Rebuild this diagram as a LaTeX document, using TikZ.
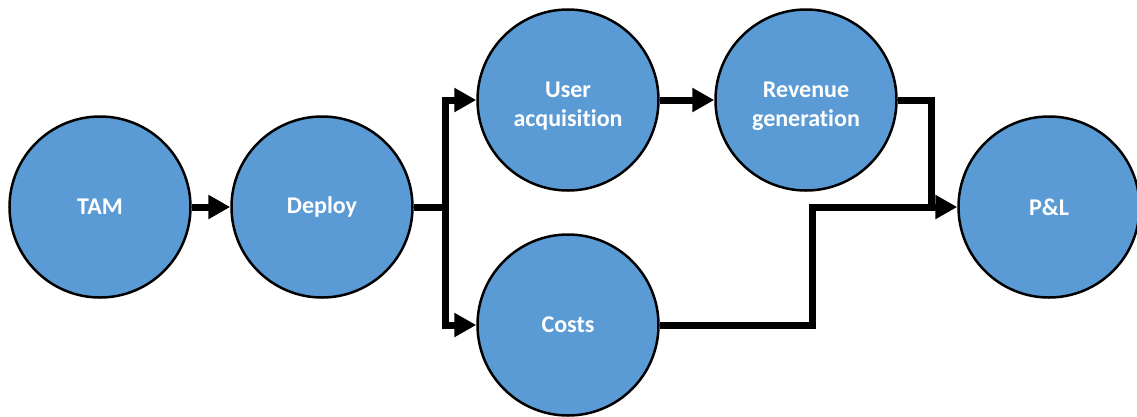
\documentclass[tikz,border=0pt]{standalone}
\usepackage{fontspec}
\setmainfont[Ligatures=CommonOff]{Carlito}
\usetikzlibrary{arrows.meta}
\definecolor{nodeblue}{HTML}{5B9BD5}
\tikzset{
  stagetext/.style={text=white, align=center,
    font=\fontsize{24}{29}\selectfont\bfseries},
  stage/.style={circle, draw=black, line width=2.5pt, fill=nodeblue,
    minimum size=181pt, inner sep=0pt, stagetext},
  twoline/.style={label={[stagetext, yshift=-6pt]center:{#1}}},
  flow/.style={line width=7pt, -{Triangle[length=22pt,width=23pt]}},
  flowplain/.style={line width=7pt}
}
\begin{document}
\begin{tikzpicture}[x=1pt,y=-1pt]
\useasboundingbox (0,0) rectangle (1137,416);
\node[stage] (tam) at (100,207) {TAM};
\node[stage] (dep) at (322,207) {Deploy};
\node[stage, twoline={User\\acquisition}] (ua) at (568,100) {};
\node[stage, twoline={Revenue\\generation}] (rev) at (806,100) {};
\node[stage] (cost) at (568,325) {Costs};
\node[stage] (pl) at (1049,207) {P\&L};
\coordinate (br) at (445,207);
\coordinate (j) at (931,207);
\draw[flow] (tam) -- (dep);
\draw[flowplain] (dep.east) -- (br);
\draw[flow] (br) |- (ua.west);
\draw[flow] (br) |- (cost.west);
\draw[flow] (ua) -- (rev);
\draw[flowplain] (rev.east) -| (j);
\draw[flow] (cost.east) -- ++(153,0) |- (pl.west);
\end{tikzpicture}
\end{document}
